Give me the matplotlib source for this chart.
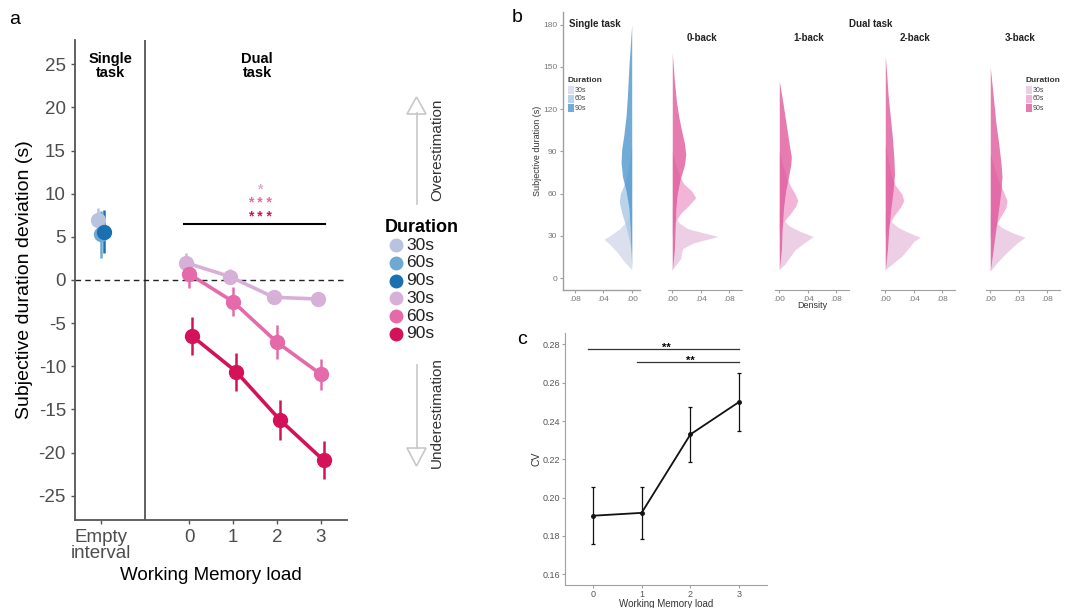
import numpy as np
import matplotlib
matplotlib.use('Agg')
import matplotlib.pyplot as plt
from matplotlib.patches import Polygon

plt.rcParams['font.family'] = ['Liberation Sans', 'DejaVu Sans']

# ---------------- data ----------------
durations = ['30s', '60s', '90s']

# panel a: subjective duration deviation (s)
single_mean = [6.9, 5.3, 5.6]
single_err = [1.4, 2.7, 2.5]
wm_load = [0, 1, 2, 3]
dual_30 = [2.0, 0.4, -2.0, -2.2]
dual_30_err = [1.1, 0.9, 0.8, 0.8]
dual_60 = [0.7, -2.5, -7.2, -10.9]
dual_60_err = [1.6, 1.7, 2.0, 1.8]
dual_90 = [-6.5, -10.6, -16.2, -20.9]
dual_90_err = [2.2, 2.2, 2.3, 2.2]

# panel b: density profiles (subjective duration, density)
st_30_y = [6, 12, 18, 24, 27.5, 31, 35, 39, 44, 50]
st_30_d = [0, 0.011, 0.02, 0.031, 0.039, 0.028, 0.017, 0.0095, 0.004, 0]
st_60_y = [18, 28, 38, 46, 54, 60, 66, 74, 84, 95]
st_60_d = [0, 0.004, 0.009, 0.014, 0.0175, 0.016, 0.011, 0.006, 0.003, 0]
st_90_y = [8, 20, 35, 50, 62, 72, 82, 92, 102, 115, 130, 150, 165, 180]
st_90_d = [0, 0.001, 0.002, 0.004, 0.008, 0.013, 0.015, 0.014, 0.011, 0.008, 0.006, 0.004, 0.002, 0]

b0_30_y = [6, 10, 14, 18, 21, 25, 29.5, 32, 35, 39, 44, 50]
b0_30_d = [0, 0.006, 0.012, 0.013, 0.015, 0.03, 0.064, 0.045, 0.022, 0.01, 0.004, 0]
b0_60_y = [30, 40, 46, 52, 57, 62, 67, 72, 80, 90]
b0_60_d = [0, 0.004, 0.012, 0.024, 0.033, 0.027, 0.016, 0.011, 0.005, 0]
b0_90_y = [5, 20, 35, 50, 60, 70, 80, 88, 96, 105, 115, 125, 140, 160]
b0_90_d = [0, 0.003, 0.004, 0.005, 0.007, 0.011, 0.017, 0.019, 0.017, 0.013, 0.009, 0.006, 0.003, 0]

b1_30_y = [6, 10, 15, 20, 25, 29.5, 33, 37, 42, 48]
b1_30_d = [0, 0.008, 0.015, 0.022, 0.035, 0.048, 0.03, 0.014, 0.005, 0]
b1_60_y = [32, 40, 46, 51, 55, 60, 66, 72, 80, 90]
b1_60_d = [0, 0.006, 0.016, 0.023, 0.026, 0.022, 0.015, 0.01, 0.005, 0]
b1_90_y = [6, 20, 35, 50, 62, 72, 80, 86, 95, 105, 115, 125, 140]
b1_90_d = [0, 0.003, 0.004, 0.006, 0.009, 0.013, 0.016, 0.017, 0.014, 0.011, 0.008, 0.005, 0]

b2_30_y = [6, 10, 16, 22, 26, 29, 32, 36, 41, 47]
b2_30_d = [0, 0.01, 0.024, 0.034, 0.04, 0.049, 0.034, 0.018, 0.006, 0]
b2_60_y = [30, 38, 44, 50, 55, 60, 66, 74, 84, 95]
b2_60_d = [0, 0.005, 0.012, 0.021, 0.026, 0.023, 0.014, 0.008, 0.004, 0]
b2_90_y = [5, 20, 35, 50, 62, 74, 86, 100, 115, 130, 145, 158]
b2_90_d = [0, 0.003, 0.005, 0.008, 0.011, 0.013, 0.012, 0.01, 0.007, 0.004, 0.002, 0]

b3_30_y = [5, 10, 15, 20, 25, 29, 32, 36, 40, 46]
b3_30_d = [0, 0.008, 0.017, 0.027, 0.038, 0.049, 0.032, 0.016, 0.007, 0]
b3_60_y = [28, 36, 44, 50, 55, 62, 70, 78, 88]
b3_60_d = [0, 0.006, 0.015, 0.022, 0.0235, 0.018, 0.011, 0.006, 0]
b3_90_y = [5, 20, 35, 50, 62, 72, 82, 95, 110, 125, 140, 150]
b3_90_d = [0, 0.004, 0.008, 0.012, 0.015, 0.0165, 0.015, 0.012, 0.008, 0.005, 0.002, 0]

facet_titles = ['0-back', '1-back', '2-back', '3-back']

# panel c: coefficient of variation
cv_load = [0, 1, 2, 3]
cv_mean = [0.1905, 0.192, 0.233, 0.250]
cv_err = [0.015, 0.0135, 0.0145, 0.015]

# colours
blue = ['#b9c3df', '#6fa8d3', '#1a70b0']
pink = ['#d7b0d8', '#e46aa9', '#d3125a']
blue_fill = ['#d3d7ea', '#a9c9e7', '#4f98cc']
pink_fill = ['#e8c4df', '#efa3cf', '#e05a9c']

W, H = 1070, 608
fig = plt.figure(figsize=(W / 100, H / 100), dpi=100)


def box(x0, y0, x1, y1):
    # pixel box (top-left origin) -> figure rect
    return [x0 / W, 1 - y1 / H, (x1 - x0) / W, (y1 - y0) / H]


# overlay in pixel coordinates for annotations
ov = fig.add_axes([0, 0, 1, 1], zorder=5)
ov.set_xlim(0, W)
ov.set_ylim(H, 0)
ov.axis('off')

# ---------------- panel a ----------------
axc = '#555555'
ax = fig.add_axes(box(75, 40, 347, 520))
ax.set_xlim(-2.6, 3.6)
ax.set_ylim(-27.8, 27.8)
for s in ['top', 'right']:
    ax.spines[s].set_visible(False)
for s in ['left', 'bottom']:
    ax.spines[s].set_color(axc)
    ax.spines[s].set_linewidth(1.3)
ax.axvline(-1, color=axc, lw=1.3)
ax.axhline(0, color='#222222', lw=1, ls=(0, (4, 3)))

dodge = [-0.07, 0.0, 0.07]
for i in range(3):
    ax.errorbar(-2 + dodge[i], single_mean[i], yerr=single_err[i], fmt='o',
                color=blue[i], ms=10, elinewidth=1.8, capsize=0, zorder=3)

dual = [(dual_30, dual_30_err), (dual_60, dual_60_err), (dual_90, dual_90_err)]
for i, (m, e) in enumerate(dual):
    xs = np.array(wm_load) + dodge[i]
    ax.plot(xs, m, '-', color=pink[i], lw=2.6, zorder=2)
    ax.errorbar(xs, m, yerr=e, fmt='o', color=pink[i], ms=10,
                elinewidth=1.8, capsize=0, zorder=3)

ax.plot([-0.11, 3.1], [6.5, 6.5], color='black', lw=1.5)
ax.text(1.62, 10.5, '*', color=pink[0], ha='center', va='center', fontsize=10, fontweight='bold')
ax.text(1.62, 8.9, '* * *', color=pink[1], ha='center', va='center', fontsize=10, fontweight='bold')
ax.text(1.62, 7.3, '* * *', color=pink[2], ha='center', va='center', fontsize=10, fontweight='bold')

ax.text(-1.8, 24.8, 'Single\ntask', ha='center', va='center', fontsize=10.5,
        fontweight='bold', linespacing=0.95)
ax.text(1.55, 24.8, 'Dual\ntask', ha='center', va='center', fontsize=10.5,
        fontweight='bold', linespacing=0.95)

yt = np.arange(-25, 26, 5)
ax.set_yticks(yt)
ax.set_yticklabels([str(v) for v in yt])
ax.set_xticks([-2] + wm_load)
ax.set_xticklabels(['Empty\ninterval'] + [str(v) for v in wm_load])
ax.tick_params(colors=axc, labelcolor='#4d4d4d', labelsize=13.5, length=3, width=1)
for lab in ax.get_xticklabels():
    lab.set_linespacing(0.9)
ax.set_ylabel('Subjective duration deviation (s)', fontsize=14, labelpad=4)
ax.set_xlabel('Working Memory load', fontsize=13.5, labelpad=4)

# legend of panel a
ov.text(385, 227, 'Duration', fontsize=13, fontweight='bold', va='center')
leg_cols = blue + pink
for k in range(6):
    yy = 245 + k * 17.8
    ov.plot(396, yy, 'o', color=leg_cols[k], ms=9)
    ov.text(406, yy, (durations * 2)[k], fontsize=12.5, va='center', color='#222222')

# estimation arrows
arr_c = '#c8c8c8'
ov.plot([416.5, 416.5], [113, 204], color=arr_c, lw=1.2)
ov.add_patch(Polygon([[407, 114], [426, 114], [416.5, 97]], closed=True,
                     facecolor='white', edgecolor=arr_c, lw=1.2))
ov.plot([416.5, 416.5], [365, 448], color=arr_c, lw=1.2)
ov.add_patch(Polygon([[407, 448], [426, 448], [416.5, 466]], closed=True,
                     facecolor='white', edgecolor=arr_c, lw=1.2))
ov.text(437, 150, 'Overestimation', rotation=90, ha='center', va='center',
        fontsize=11, color='#333333')
ov.text(437, 413, 'Underestimation', rotation=90, ha='center', va='center',
        fontsize=11, color='#333333')

# ---------------- panel b ----------------
bgrey = '#a0a0a0'
ylim_b = (-8.5, 189)
single_curves = [(st_30_y, st_30_d), (st_60_y, st_60_d), (st_90_y, st_90_d)]
dual_curves = [
    [(b0_30_y, b0_30_d), (b0_60_y, b0_60_d), (b0_90_y, b0_90_d)],
    [(b1_30_y, b1_30_d), (b1_60_y, b1_60_d), (b1_90_y, b1_90_d)],
    [(b2_30_y, b2_30_d), (b2_60_y, b2_60_d), (b2_90_y, b2_90_d)],
    [(b3_30_y, b3_30_d), (b3_60_y, b3_60_d), (b3_90_y, b3_90_d)],
]

axs = fig.add_axes(box(563, 12, 640, 290))
for i, (yy, dd) in enumerate(single_curves):
    axs.fill_betweenx(yy, 0, dd, color=blue_fill[i], alpha=0.8, lw=0)
axs.set_xlim(0.0969, -0.0117)
axs.set_ylim(*ylim_b)
for s in ['top', 'right']:
    axs.spines[s].set_visible(False)
for s in ['left', 'bottom']:
    axs.spines[s].set_color(bgrey)
    axs.spines[s].set_linewidth(1)
axs.set_yticks(range(0, 181, 30))
axs.set_xticks([0.08, 0.04, 0.0])
axs.set_xticklabels(['.08', '.04', '.00'])
axs.tick_params(colors=bgrey, labelcolor='#777777', labelsize=6, length=2, width=0.8, pad=2)
axs.set_ylabel('Subjective duration (s)', fontsize=6.5, color='#333333', labelpad=1)

dual_x0 = [668, 775, 881, 986]
dual_xt = [['.00', '.04', '.08'], ['.00', '.04', '.08'], ['.00', '.04', '.08'], ['.00', '.03', '.08']]
for j in range(4):
    axd = fig.add_axes(box(dual_x0[j], 12, dual_x0[j] + 74, 290))
    for i, (yy, dd) in enumerate(dual_curves[j]):
        axd.fill_betweenx(yy, 0, dd, color=pink_fill[i], alpha=0.8, lw=0)
    axd.set_xlim(-0.006, 0.098)
    axd.set_ylim(*ylim_b)
    for s in ['top', 'right', 'left']:
        axd.spines[s].set_visible(False)
    axd.spines['bottom'].set_color(bgrey)
    axd.set_yticks([])
    axd.set_xticks([0.0, 0.04, 0.08])
    axd.set_xticklabels(dual_xt[j])
    axd.tick_params(colors=bgrey, labelcolor='#777777', labelsize=6, length=2, width=0.8, pad=2)
    ov.text(dual_x0[j] + 34, 38, facet_titles[j], ha='center', va='center',
            fontsize=7, fontweight='bold', color='#222222')

ov.text(595, 24, 'Single task', ha='center', va='center', fontsize=7, fontweight='bold', color='#222222')
ov.text(871, 24, 'Dual task', ha='center', va='center', fontsize=7, fontweight='bold', color='#222222')
ov.text(812, 306, 'Density', ha='center', va='center', fontsize=6.5, color='#333333')

# legends of panel b
for lx, cols in [(567, blue_fill), (1025, pink_fill)]:
    ov.text(lx, 81, 'Duration', fontsize=6, fontweight='bold', va='center', color='#333333')
    for k in range(3):
        yy = 90 + k * 9
        ov.add_patch(plt.Rectangle((lx + 1, yy - 4), 6, 8, facecolor=cols[k], alpha=0.8, lw=0))
        ov.text(lx + 8, yy, durations[k], fontsize=5, va='center', color='#444444')

# ---------------- panel c ----------------
axc2 = fig.add_axes(box(565, 333, 767, 585))
axc2.errorbar(cv_load, cv_mean, yerr=cv_err, fmt='-o', color='#111111', ms=2.5,
              lw=1.3, elinewidth=0.9, capsize=1.5, capthick=0.9)
axc2.set_xlim(-0.57, 3.57)
axc2.set_ylim(0.1543, 0.286)
for s in ['top', 'right']:
    axc2.spines[s].set_visible(False)
for s in ['left', 'bottom']:
    axc2.spines[s].set_color(bgrey)
axc2.set_yticks(np.arange(0.16, 0.281, 0.02))
axc2.set_yticklabels(['%.2f' % v for v in np.arange(0.16, 0.281, 0.02)])
axc2.set_xticks(cv_load)
axc2.tick_params(colors=bgrey, labelcolor='#555555', labelsize=6.5, length=2, width=0.8, pad=1.5)
axc2.set_ylabel('CV', fontsize=7.5, color='#333333', labelpad=1)
axc2.set_xlabel('Working Memory load', fontsize=7, color='#333333', labelpad=0)
axc2.plot([-0.1, 3.0], [0.2775, 0.2775], color='#333333', lw=0.9)
axc2.plot([0.9, 3.0], [0.2710, 0.2710], color='#333333', lw=0.9)
axc2.text(1.5, 0.2782, '**', ha='center', va='center', fontsize=8, fontweight='bold')
axc2.text(2.0, 0.2717, '**', ha='center', va='center', fontsize=8, fontweight='bold')

# panel labels
ov.text(15, 20, 'a', fontsize=14, va='center', ha='center')
ov.text(517, 18, 'b', fontsize=14, va='center', ha='center')
ov.text(522, 340, 'c', fontsize=14, va='center', ha='center')

fig.savefig('out.png', dpi=100)
